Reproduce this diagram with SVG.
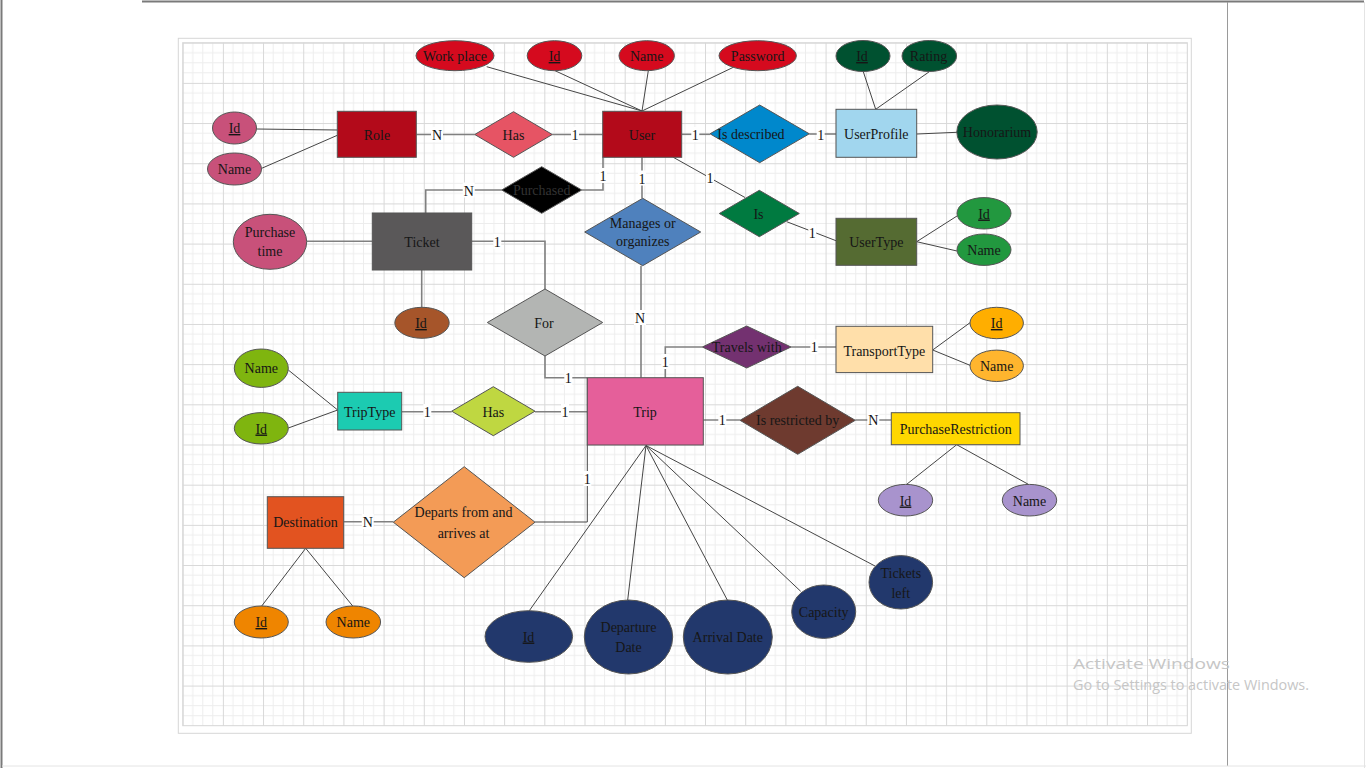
<svg xmlns="http://www.w3.org/2000/svg" width="1366" height="768" viewBox="0 0 1366 768">
<style>
  text { font-family: "Liberation Serif", "Times New Roman", serif; font-size: 14px; fill: #161616; text-anchor: middle; }
  .shape { stroke: #555; stroke-width: 1; }
  .attr { stroke: #454545; stroke-width: 1; fill: none; }
  .conn { stroke: #808080; stroke-width: 1.6; fill: none; }
  .lblbg { fill: #fff; }
  .lbl { font-size: 14px; fill: #111; }
  .wm { font-family: "Open Sans", "Noto Sans", sans-serif; fill: #c6c6c6; text-anchor: start; }
</style>
<defs>
  <pattern id="grid" x="182.7" y="42.7" width="40.18" height="40.18" patternUnits="userSpaceOnUse">
    <path d="M10.045 0V40.18M20.09 0V40.18M30.135 0V40.18M0 10.045H40.18M0 20.09H40.18M0 30.135H40.18" stroke="#ededed" stroke-width="1" fill="none"/>
    <path d="M0.5 0V40.18M0 0.5H40.18" stroke="#d8d8d8" stroke-width="1" fill="none"/>
  </pattern>
</defs>
<rect x="0" y="0" width="1366" height="768" fill="#fff"/>
<!-- page frame -->
<line x1="142" y1="1.5" x2="1364" y2="1.5" stroke="#7a7a7a" stroke-width="2"/>
<line x1="1.5" y1="0" x2="1.5" y2="768" stroke="#7a7a7a" stroke-width="2"/>
<line x1="1227.5" y1="2" x2="1227.5" y2="766" stroke="#9a9a9a" stroke-width="1"/>
<line x1="1364.5" y1="2" x2="1364.5" y2="768" stroke="#e4e4e4" stroke-width="1"/>
<line x1="2" y1="766" x2="1366" y2="766" stroke="#e4e4e4" stroke-width="1"/>
<!-- grid -->
<rect x="182.7" y="42.7" width="1004.6" height="683" fill="url(#grid)"/>
<rect x="178.3" y="38.3" width="1013" height="695" fill="none" stroke="#d6d6d6" stroke-width="1"/>
<rect x="182.7" y="42.7" width="1004.6" height="683" fill="none" stroke="#d6d6d6" stroke-width="1"/>

<!-- attribute lines and connectors -->
<g id="connectors">
  <path class="attr" d="M256.3 129L337.3 130M261.7 168.3L337.3 135.3"/>
  <path class="attr" d="M486.7 66.7L642 111M555 70.7L642 111M648.3 70.7L642 111M733.3 67.3L642 111"/>
  <path class="attr" d="M863.3 71.7L875.7 109.3M929.3 71.7L875.7 109.3"/>
  <path class="attr" d="M916.7 134L957 132.3"/>
  <path class="attr" d="M916.7 241.7L957 216M916.7 241.7L957 251"/>
  <path class="conn" d="M306.7 241.3H372.3"/>
  <path class="conn" d="M421.7 270V307.3"/>
  <path class="attr" d="M932.7 350L970 322.7M932.7 350L970 365.3"/>
  <path class="attr" d="M288.3 370L337.7 410M288.3 428L337.7 410"/>
  <path class="attr" d="M956.7 444.7L906.7 484.3M956.7 444.7L1028.3 484.3"/>
  <path class="attr" d="M305.7 548.3L261.7 606M305.7 548.3L352.7 606"/>
  <path class="attr" d="M646 445.5L529.3 610.7M646 445.5L627.7 600M646 445.5L727.3 600M646 445.5L800.7 591.3M646 445.5L875 566"/>

  <path class="conn" d="M416.3 134.5H474.7"/>
  <path class="conn" d="M552.3 134.5H602.7"/>
  <path class="conn" d="M425.7 213V190H501.7"/>
  <path class="conn" d="M581.7 190H603V157.3"/>
  <path class="conn" d="M471.7 241.3H545V289"/>
  <path class="conn" d="M545 356V377.7H587.3"/>
  <path class="conn" d="M642 157.3V198.3"/>
  <path class="conn" d="M641 265.7V377.7"/>
  <path class="conn" d="M681.7 134.3H710"/>
  <path class="conn" d="M809.3 134H836"/>
  <path class="attr" d="M673.3 157.3L745 197.5"/>
  <path class="attr" d="M786.7 221.7L836 240.7"/>
  <path class="conn" d="M665.3 377.7V347H702.3"/>
  <path class="conn" d="M791 347H836"/>
  <path class="conn" d="M401.7 411.7H451.7"/>
  <path class="conn" d="M535 411.7H587.3"/>
  <path class="attr" d="M703.3 420H740"/>
  <path class="attr" d="M855.3 420H891.3"/>
  <path class="conn" d="M343.7 521.7H393.3"/>
  <path class="attr" d="M535 522H587.3V445"/>
  <path class="attr" d="M587.3 445V378"/>

  <!-- cardinality labels -->
  <g>
    <rect class="lblbg" x="431" y="127" width="12" height="15"/><text class="lbl" x="437" y="140">N</text>
    <rect class="lblbg" x="571" y="127" width="8" height="15"/><text class="lbl" x="575" y="140">1</text>
    <rect class="lblbg" x="462.7" y="182.5" width="12" height="15"/><text class="lbl" x="468.7" y="195.5">N</text>
    <rect class="lblbg" x="599" y="168" width="8" height="15"/><text class="lbl" x="603" y="181">1</text>
    <rect class="lblbg" x="493.3" y="234" width="8" height="15"/><text class="lbl" x="497.3" y="246.5">1</text>
    <rect class="lblbg" x="638" y="170.5" width="8" height="15"/><text class="lbl" x="642" y="183.5">1</text>
    <rect class="lblbg" x="706" y="170" width="8" height="15"/><text class="lbl" x="710" y="183">1</text>
    <rect class="lblbg" x="808.3" y="224.5" width="8" height="15"/><text class="lbl" x="812.3" y="237.5">1</text>
    <rect class="lblbg" x="691.3" y="127" width="8" height="15"/><text class="lbl" x="695.3" y="139.5">1</text>
    <rect class="lblbg" x="816.7" y="126.5" width="8" height="15"/><text class="lbl" x="820.7" y="139.5">1</text>
    <rect class="lblbg" x="634" y="310" width="12" height="15"/><text class="lbl" x="640" y="323">N</text>
    <rect class="lblbg" x="564.3" y="370" width="8" height="15"/><text class="lbl" x="568.3" y="383">1</text>
    <rect class="lblbg" x="661.3" y="354" width="8" height="15"/><text class="lbl" x="665.3" y="367">1</text>
    <rect class="lblbg" x="810.3" y="339.5" width="8" height="15"/><text class="lbl" x="814.3" y="352">1</text>
    <rect class="lblbg" x="423.3" y="404" width="8" height="15"/><text class="lbl" x="427.3" y="417">1</text>
    <rect class="lblbg" x="561" y="404" width="8" height="15"/><text class="lbl" x="565" y="417">1</text>
    <rect class="lblbg" x="718.3" y="412.5" width="8" height="15"/><text class="lbl" x="722.3" y="425">1</text>
    <rect class="lblbg" x="867.3" y="412.5" width="12" height="15"/><text class="lbl" x="873.3" y="425">N</text>
    <rect class="lblbg" x="361.7" y="514" width="12" height="15"/><text class="lbl" x="367.7" y="527">N</text>
    <rect class="lblbg" x="583.3" y="471" width="8" height="15"/><text class="lbl" x="587.3" y="483.5">1</text>
  </g>
</g>

<!-- Role -->
<g id="role">
  <rect class="shape" x="337.3" y="111.3" width="79" height="46" fill="#b30a1a"/>
  <text x="377" y="140">Role</text>
</g>
<g id="role-id"><ellipse class="shape" cx="234.5" cy="128" rx="22" ry="16" fill="#c8517a"/><text x="234.5" y="133" text-decoration="underline">Id</text></g>
<g id="role-name"><ellipse class="shape" cx="234.5" cy="169" rx="27" ry="16" fill="#c8517a"/><text x="234.5" y="174">Name</text></g>
<g id="role-has"><polygon class="shape" points="474.7,134.5 513.5,111.7 552.3,134.5 513.5,157.3" fill="#e65464"/><text x="513.5" y="140">Has</text></g>

<!-- User -->
<g id="user">
  <rect class="shape" x="602.7" y="111.3" width="79" height="46" fill="#b30a1a"/>
  <text x="642" y="139.5">User</text>
</g>
<g id="user-workplace"><ellipse class="shape" cx="455" cy="55.7" rx="39" ry="15" fill="#d50a1e"/><text x="455" y="61">Work place</text></g>
<g id="user-id"><ellipse class="shape" cx="554.5" cy="55.7" rx="27.3" ry="15" fill="#d50a1e"/><text x="554.5" y="61" text-decoration="underline">Id</text></g>
<g id="user-name"><ellipse class="shape" cx="646.7" cy="55.7" rx="27.7" ry="15" fill="#d50a1e"/><text x="646.7" y="61">Name</text></g>
<g id="user-password"><ellipse class="shape" cx="757.7" cy="55.7" rx="38.7" ry="15" fill="#d50a1e"/><text x="757.7" y="61">Password</text></g>

<g id="is-described"><polygon class="shape" points="710,133.8 759.7,105 809.3,133.8 759.7,162.7" fill="#0088cc"/><text x="751" y="139">Is described</text></g>

<!-- UserProfile -->
<g id="userprofile">
  <rect class="shape" x="836" y="109.3" width="80.7" height="48" fill="#a1d6ee"/>
  <text x="876.3" y="139">UserProfile</text>
</g>
<g id="up-id"><ellipse class="shape" cx="863" cy="56" rx="27" ry="15.5" fill="#005130"/><text x="862" y="61" text-decoration="underline">Id</text></g>
<g id="up-rating"><ellipse class="shape" cx="929.3" cy="56" rx="27.3" ry="15.5" fill="#005130"/><text x="928.5" y="61">Rating</text></g>
<g id="up-honorarium"><ellipse class="shape" cx="997" cy="132" rx="40.2" ry="27" fill="#005130"/><text x="997" y="137">Honorarium</text></g>

<!-- Purchased -->
<g id="purchased"><polygon class="shape" points="501.7,190 541.7,166.7 581.7,190 541.7,213.3" fill="#000"/><text x="541.7" y="195" style="fill:#333">Purchased</text></g>

<!-- Manages or organizes -->
<g id="manages">
  <polygon class="shape" points="584.7,232 642.7,198.3 700.7,232 642.7,265.7" fill="#4f81bd"/>
  <text x="642.7" y="227.5">Manages or</text>
  <text x="642.7" y="246">organizes</text>
</g>

<!-- Is -->
<g id="is"><polygon class="shape" points="719.3,213.5 759.3,190.3 799.3,213.5 759.3,236.7" fill="#007a40"/><text x="758.5" y="218.5">Is</text></g>

<!-- UserType -->
<g id="usertype">
  <rect class="shape" x="836" y="218.3" width="80.7" height="47" fill="#556b32"/>
  <text x="876.3" y="246.5">UserType</text>
</g>
<g id="ut-id"><ellipse class="shape" cx="984" cy="213.3" rx="27" ry="15.7" fill="#22983f"/><text x="984" y="218.5" text-decoration="underline">Id</text></g>
<g id="ut-name"><ellipse class="shape" cx="984" cy="249.7" rx="27" ry="15.7" fill="#22983f"/><text x="984" y="255">Name</text></g>

<!-- Ticket -->
<g id="ticket">
  <rect class="shape" x="372.3" y="213" width="99.4" height="57" fill="#5a5859"/>
  <text x="422" y="246.5">Ticket</text>
</g>
<g id="ticket-time">
  <ellipse class="shape" cx="270" cy="241.8" rx="36.7" ry="27.5" fill="#c8517a"/>
  <text x="270" y="237">Purchase</text>
  <text x="270" y="256">time</text>
</g>
<g id="ticket-id"><ellipse class="shape" cx="422" cy="322.8" rx="27.2" ry="15.5" fill="#a6552a"/><text x="421" y="328" text-decoration="underline">Id</text></g>

<!-- For -->
<g id="for"><polygon class="shape" points="487.3,322.5 545,289 602.7,322.5 545,356" fill="#b3b5b3"/><text x="544" y="328">For</text></g>

<!-- Trip -->
<g id="trip">
  <rect class="shape" x="587.3" y="377.7" width="116" height="67.3" fill="#e55f9a"/>
  <text x="645" y="417">Trip</text>
</g>
<g id="trip-id"><ellipse class="shape" cx="528.8" cy="636.5" rx="43.8" ry="25.8" fill="#22386c"/><text x="528.5" y="641.5" text-decoration="underline">Id</text></g>
<g id="trip-departure">
  <ellipse class="shape" cx="628.5" cy="637" rx="44.2" ry="37" fill="#22386c"/>
  <text x="628.5" y="632">Departure</text>
  <text x="628.5" y="651.5">Date</text>
</g>
<g id="trip-arrival"><ellipse class="shape" cx="727.8" cy="637" rx="44.5" ry="37" fill="#22386c"/><text x="727.8" y="642">Arrival Date</text></g>
<g id="trip-capacity"><ellipse class="shape" cx="823.7" cy="611.7" rx="32" ry="26.7" fill="#22386c"/><text x="823.7" y="616.5">Capacity</text></g>
<g id="trip-ticketsleft">
  <ellipse class="shape" cx="900.8" cy="582.3" rx="31.8" ry="26.7" fill="#22386c"/>
  <text x="900.8" y="578">Tickets</text>
  <text x="900.8" y="597.5">left</text>
</g>

<!-- Travels with / TransportType -->
<g id="travels-with"><polygon class="shape" points="702.3,347 746.7,326 791,347 746.7,368" fill="#733170"/><text x="746.7" y="352">Travels with</text></g>
<g id="transporttype">
  <rect class="shape" x="836" y="326.3" width="96.7" height="46.3" fill="#ffdfaa"/>
  <text x="884.3" y="356">TransportType</text>
</g>
<g id="tt-id"><ellipse class="shape" cx="996.7" cy="323" rx="26.7" ry="15.7" fill="#ffae00"/><text x="996.7" y="328" text-decoration="underline">Id</text></g>
<g id="tt-name"><ellipse class="shape" cx="996.7" cy="365.8" rx="26.7" ry="15.7" fill="#ffb52e"/><text x="996.7" y="371">Name</text></g>

<!-- TripType -->
<g id="triptype">
  <rect class="shape" x="337.7" y="392.3" width="64" height="37.7" fill="#1ccbb1"/>
  <text x="369.7" y="416.5">TripType</text>
</g>
<g id="tript-name"><ellipse class="shape" cx="261.3" cy="368.2" rx="27" ry="19.2" fill="#7fb50f"/><text x="261.3" y="373">Name</text></g>
<g id="tript-id"><ellipse class="shape" cx="261.3" cy="428.3" rx="27" ry="15.7" fill="#7fb50f"/><text x="261.3" y="433.5" text-decoration="underline">Id</text></g>
<g id="triptype-has"><polygon class="shape" points="451.7,411.2 493.3,386.7 535,411.2 493.3,435.7" fill="#bfd741"/><text x="493.3" y="416.5">Has</text></g>

<!-- Is restricted by / PurchaseRestriction -->
<g id="restricted"><polygon class="shape" points="740,420.3 797.7,386.3 855.3,420.3 797.7,454.3" fill="#6e3a2f"/><text x="797.7" y="425">Is restricted by</text></g>
<g id="purchaserestriction">
  <rect class="shape" x="891.3" y="412.7" width="128.7" height="32" fill="#ffd700"/>
  <text x="955.7" y="434">PurchaseRestriction</text>
</g>
<g id="pr-id"><ellipse class="shape" cx="905.5" cy="500.2" rx="27.2" ry="15.8" fill="#a893cd"/><text x="905.5" y="505.5" text-decoration="underline">Id</text></g>
<g id="pr-name"><ellipse class="shape" cx="1029.5" cy="500.2" rx="27.2" ry="15.8" fill="#a893cd"/><text x="1029.5" y="505.5">Name</text></g>

<!-- Destination -->
<g id="destination">
  <rect class="shape" x="267.3" y="496.7" width="76.4" height="51.6" fill="#e25320"/>
  <text x="305.5" y="527">Destination</text>
</g>
<g id="dest-id"><ellipse class="shape" cx="261.3" cy="622" rx="27" ry="16" fill="#ef8500"/><text x="261.3" y="627" text-decoration="underline">Id</text></g>
<g id="dest-name"><ellipse class="shape" cx="353.3" cy="622" rx="27.3" ry="16" fill="#ef8500"/><text x="353.3" y="627">Name</text></g>
<g id="departs">
  <polygon class="shape" points="393.3,522.2 464.2,466.7 535,522.2 464.2,577.7" fill="#f39b56"/>
  <text x="463.5" y="517">Departs from and</text>
  <text x="463.5" y="537.5">arrives at</text>
</g>

<!-- watermark -->
<text class="wm" x="1073" y="668.5" font-size="19.5" textLength="157" lengthAdjust="spacingAndGlyphs">Activate Windows</text>
<text class="wm" x="1073" y="689.5" font-size="14.5" textLength="236" lengthAdjust="spacingAndGlyphs">Go to Settings to activate Windows.</text>
</svg>
